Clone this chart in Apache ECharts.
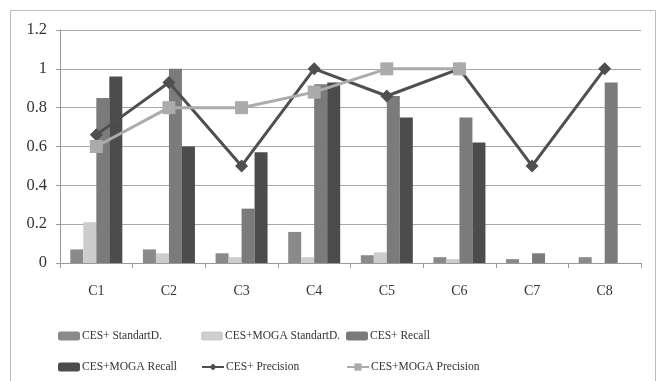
<!DOCTYPE html>
<html>
<head>
<meta charset="utf-8">
<script src="https://cdn.jsdelivr.net/npm/echarts@6/dist/echarts.min.js"></script>
<style>
  html, body { margin: 0; padding: 0; background: #fff; }
  #chart { width: 660px; height: 381px; }
</style>
</head>
<body>
<div id="chart"></div>
<script>
// Categories and per-category results
const categories = ['C1', 'C2', 'C3', 'C4', 'C5', 'C6', 'C7', 'C8'];
const yTicks = [0, 0.2, 0.4, 0.6, 0.8, 1, 1.2];

const cesStdDev      = [0.07, 0.07, 0.05, 0.16, 0.04, 0.03, 0.02, 0.03];
const mogaStdDev     = [0.21, 0.05, 0.03, 0.03, 0.055, 0.02, 0, 0];
const cesRecall      = [0.85, 1.0, 0.28, 0.92, 0.86, 0.75, 0.05, 0.93];
const mogaRecall     = [0.96, 0.6, 0.57, 0.93, 0.75, 0.62, 0, 0];
const cesPrecision   = [0.66, 0.93, 0.5, 1.0, 0.86, 1.0, 0.5, 1.0];
const mogaPrecision  = [0.6, 0.8, 0.8, 0.88, 1.0, 1.0, null, null];

const seriesNames = [
  'CES+ StandartD.', 'CES+MOGA StandartD.', 'CES+ Recall',
  'CES+MOGA Recall', 'CES+ Precision', 'CES+MOGA Precision'
];

const FONT = '"Liberation Serif", "DejaVu Serif", serif';
const TXT = '#333333';

const chart = echarts.init(document.getElementById('chart'));

// one legend per entry so the entries sit in a 3 x 2 grid
const legendCols = [53, 196, 341];
const legendRows = [325, 356];
const legends = seriesNames.map((name, i) => ({
  data: [name],
  left: legendCols[i % 3],
  top: legendRows[Math.floor(i / 3)],
  itemWidth: 22,
  itemHeight: 9,
  itemGap: 0,
  textStyle: { fontFamily: FONT, fontSize: 11.5, color: TXT, padding: [0, 0, 0, -3] }
}));

function bar(name, data, color) {
  return {
    name, type: 'bar', data,
    barWidth: 13, barGap: '0%',
    itemStyle: { color },
    emphasis: { disabled: true }
  };
}

chart.setOption({
  animation: false,
  backgroundColor: '#ffffff',
  graphic: [{
    type: 'rect',
    shape: { x: 10.5, y: 10.5, width: 645, height: 380 },
    style: { fill: 'none', stroke: '#bcbcbc', lineWidth: 1 },
    silent: true
  }],
  legend: legends,
  grid: { left: 60, right: 19, top: 30, bottom: 118 },
  xAxis: {
    type: 'category',
    data: categories,
    axisLine: { lineStyle: { color: '#9a9a9a', width: 1 } },
    axisTick: { show: true, length: 5, lineStyle: { color: '#9a9a9a' } },
    axisLabel: { fontFamily: FONT, fontSize: 14, color: TXT, margin: 21 }
  },
  yAxis: {
    type: 'value',
    min: yTicks[0],
    max: yTicks[yTicks.length - 1],
    interval: 0.2,
    axisLine: { show: true, lineStyle: { color: '#9a9a9a', width: 1 } },
    axisTick: { show: true, length: 4, lineStyle: { color: '#9a9a9a' } },
    splitLine: { lineStyle: { color: '#a8a8a8', width: 1.2 } },
    axisLabel: { fontFamily: FONT, fontSize: 16.5, color: TXT, margin: 13 }
  },
  series: [
    bar(seriesNames[0], cesStdDev, '#8a8a8a'),
    bar(seriesNames[1], mogaStdDev, '#cdcdcd'),
    bar(seriesNames[2], cesRecall, '#7b7b7b'),
    bar(seriesNames[3], mogaRecall, '#4c4c4c'),
    {
      name: seriesNames[4], type: 'line', data: cesPrecision,
      symbol: 'diamond', symbolSize: 13,
      lineStyle: { color: '#4f4f4f', width: 3 },
      itemStyle: { color: '#4f4f4f' },
      z: 3
    },
    {
      name: seriesNames[5], type: 'line', data: mogaPrecision,
      symbol: 'rect', symbolSize: 13,
      lineStyle: { color: '#ababab', width: 3 },
      itemStyle: { color: '#ababab' },
      z: 4
    }
  ]
});
</script>
</body>
</html>
